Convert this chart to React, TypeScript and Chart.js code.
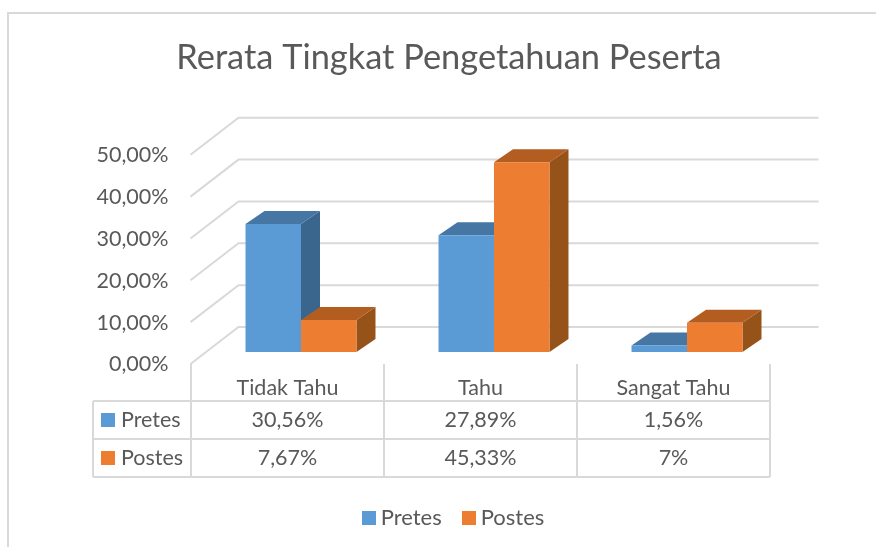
import React, { useEffect, useRef } from "react";
import { Chart, registerables } from "chart.js";

Chart.register(...registerables);

const chartTitle = "Rerata Tingkat Pengetahuan Peserta";
const categories = ["Tidak Tahu", "Tahu", "Sangat Tahu"];
const pretesValues = [30.56, 27.89, 1.56];
const postesValues = [7.67, 45.33, 7];
const pretesTable = ["30,56%", "27,89%", "1,56%"];
const postesTable = ["7,67%", "45,33%", "7%"];
const seriesNames = ["Pretes", "Postes"];

const FONT = "Lato, 'Open Sans', sans-serif";
const TEXT = "#595959";
const LINE = "#d9d9d9";
const BLUE = { front: "#5b9bd5", top: "#4676a3", side: "#3a658c" };
const ORANGE = { front: "#ed7d31", top: "#b35d20", side: "#955219" };

function swatch(color: string) {
  const c = document.createElement("canvas");
  c.width = 14;
  c.height = 14;
  const g = c.getContext("2d");
  if (g) {
    g.fillStyle = color;
    g.fillRect(0, 0, 14, 14);
  }
  return c;
}

const threeD = {
  id: "threeD",
  afterLayout(chart: any) {
    chart.legend.left += 7;
    chart.legend.right += 7;
  },
  beforeDraw(chart: any) {
    const { ctx } = chart;
    ctx.save();
    ctx.strokeStyle = LINE;
    ctx.lineWidth = 2;
    ctx.beginPath();
    ctx.moveTo(8, 547);
    ctx.lineTo(8, 13);
    ctx.lineTo(876, 13);
    ctx.stroke();
    ctx.restore();
  },
  beforeDatasetsDraw(chart: any) {
    const { ctx, scales } = chart;
    const y = scales.y;
    const x = scales.x;
    ctx.save();
    ctx.strokeStyle = LINE;
    ctx.lineWidth = 2;
    for (const v of y.ticks.map((t: any) => t.value)) {
      const p = y.getPixelForValue(v);
      ctx.beginPath();
      ctx.moveTo(x.left - 14, p + 12);
      ctx.lineTo(x.left + 34, p - 25);
      ctx.lineTo(x.right + 35, p - 25);
      ctx.stroke();
    }
    const dx = 19;
    const dy = 13;
    chart.data.datasets.forEach((_: any, di: number) => {
      const colors = di === 0 ? BLUE : ORANGE;
      chart.getDatasetMeta(di).data.forEach((bar: any) => {
        const half = bar.width / 2;
        const l = bar.x - half;
        const r = bar.x + half;
        const t = bar.y;
        const b = bar.base;
        ctx.fillStyle = colors.side;
        ctx.beginPath();
        ctx.moveTo(r, t);
        ctx.lineTo(r + dx, t - dy);
        ctx.lineTo(r + dx, b - dy);
        ctx.lineTo(r, b);
        ctx.closePath();
        ctx.fill();
        ctx.fillStyle = colors.top;
        ctx.beginPath();
        ctx.moveTo(l, t);
        ctx.lineTo(l + dx, t - dy);
        ctx.lineTo(r + dx, t - dy);
        ctx.lineTo(r, t);
        ctx.closePath();
        ctx.fill();
      });
    });
    ctx.restore();
  },
  afterDraw(chart: any) {
    const { ctx, scales } = chart;
    const x = scales.x;
    const cat = (x.right - x.left) / categories.length;
    const left = x.left - 13.5;
    const rows = [
      { name: seriesNames[0], cells: pretesTable, color: BLUE.front },
      { name: seriesNames[1], cells: postesTable, color: ORANGE.front },
    ];
    const bottom = scales.y.bottom;
    const rowTop = bottom + 49;
    const rowH = 38;
    const headLeft = left - 98;
    ctx.save();
    ctx.strokeStyle = LINE;
    ctx.lineWidth = 2;
    ctx.beginPath();
    for (let i = 0; i <= rows.length; i++) {
      ctx.moveTo(headLeft, rowTop + i * rowH);
      ctx.lineTo(left + cat * categories.length, rowTop + i * rowH);
    }
    for (let i = 0; i <= categories.length; i++) {
      ctx.moveTo(left + i * cat, bottom + 12);
      ctx.lineTo(left + i * cat, rowTop + rows.length * rowH);
    }
    ctx.moveTo(headLeft, rowTop);
    ctx.lineTo(headLeft, rowTop + rows.length * rowH);
    ctx.stroke();
    ctx.font = `21.5px ${FONT}`;
    ctx.textBaseline = "middle";
    rows.forEach((row, ri) => {
      const cy = rowTop + ri * rowH + rowH / 2;
      ctx.fillStyle = row.color;
      ctx.fillRect(headLeft + 8, cy - 7, 14, 14);
      ctx.fillStyle = TEXT;
      ctx.textAlign = "left";
      ctx.fillText(row.name, headLeft + 28, cy);
      ctx.textAlign = "center";
      row.cells.forEach((c, ci) => {
        ctx.fillText(c, left + cat * (ci + 0.5), cy);
      });
    });
    ctx.restore();
  },
};

export default function App() {
  const ref = useRef<HTMLCanvasElement | null>(null);
  useEffect(() => {
    if (!ref.current) return;
    const swatches = [swatch(BLUE.front), swatch(ORANGE.front)];
    const chart = new Chart(ref.current, {
      type: "bar",
      plugins: [threeD],
      data: {
        labels: categories,
        datasets: [
          { label: seriesNames[0], data: pretesValues, backgroundColor: BLUE.front },
          { label: seriesNames[1], data: postesValues, backgroundColor: ORANGE.front },
        ],
      },
      options: {
        responsive: false,
        animation: false,
        layout: { padding: { left: 22, right: 0, top: 0, bottom: 8 } },
        datasets: { bar: { categoryPercentage: 0.575, barPercentage: 1 } },
        plugins: {
          tooltip: { enabled: false },
          title: {
            display: true,
            text: chartTitle,
            color: TEXT,
            font: { family: FONT, size: 34.4, weight: "normal", lineHeight: 1.2 },
            padding: { top: 37, bottom: 64.5 },
          },
          legend: {
            position: "bottom",
            labels: {
              usePointStyle: true,
              pointStyleWidth: 2,
              color: TEXT,
              padding: 26,
              font: { family: FONT, size: 22 },
              generateLabels(c: any) {
                return Chart.defaults.plugins.legend.labels
                  .generateLabels(c)
                  .map((item: any) => ({ ...item, pointStyle: swatches[item.datasetIndex] }));
              },
            },
          },
        },
        scales: {
          x: {
            grid: { display: false, drawTicks: false },
            border: { display: false },
            ticks: {
              color: TEXT,
              font: { family: FONT, size: 21.5 },
              padding: 23,
              labelOffset: -13.5,
              maxRotation: 0,
            },
            afterFit(s: any) {
              s.height = 129;
            },
          },
          y: {
            min: 0,
            max: 50,
            grid: { display: false, drawTicks: false },
            border: { display: false },
            ticks: {
              stepSize: 10,
              color: TEXT,
              font: { family: FONT, size: 21.5 },
              padding: 36,
              labelOffset: 12.5,
              callback: (v: any) => Number(v).toFixed(2).replace(".", ",") + "%",
            },
            afterFit(s: any) {
              s.width = 182.5;
            },
          },
          yRight: {
            position: "right",
            grid: { display: false, drawTicks: false },
            border: { display: false },
            ticks: { display: false },
            afterFit(s: any) {
              s.width = 92.5;
            },
          },
        },
      } as any,
    });
    return () => chart.destroy();
  }, []);
  return (
    <div style={{ position: "absolute", left: 0, top: 0, width: 876, height: 547 }}>
      <canvas ref={ref} width={876} height={547} style={{ display: "block" }} />
    </div>
  );
}
